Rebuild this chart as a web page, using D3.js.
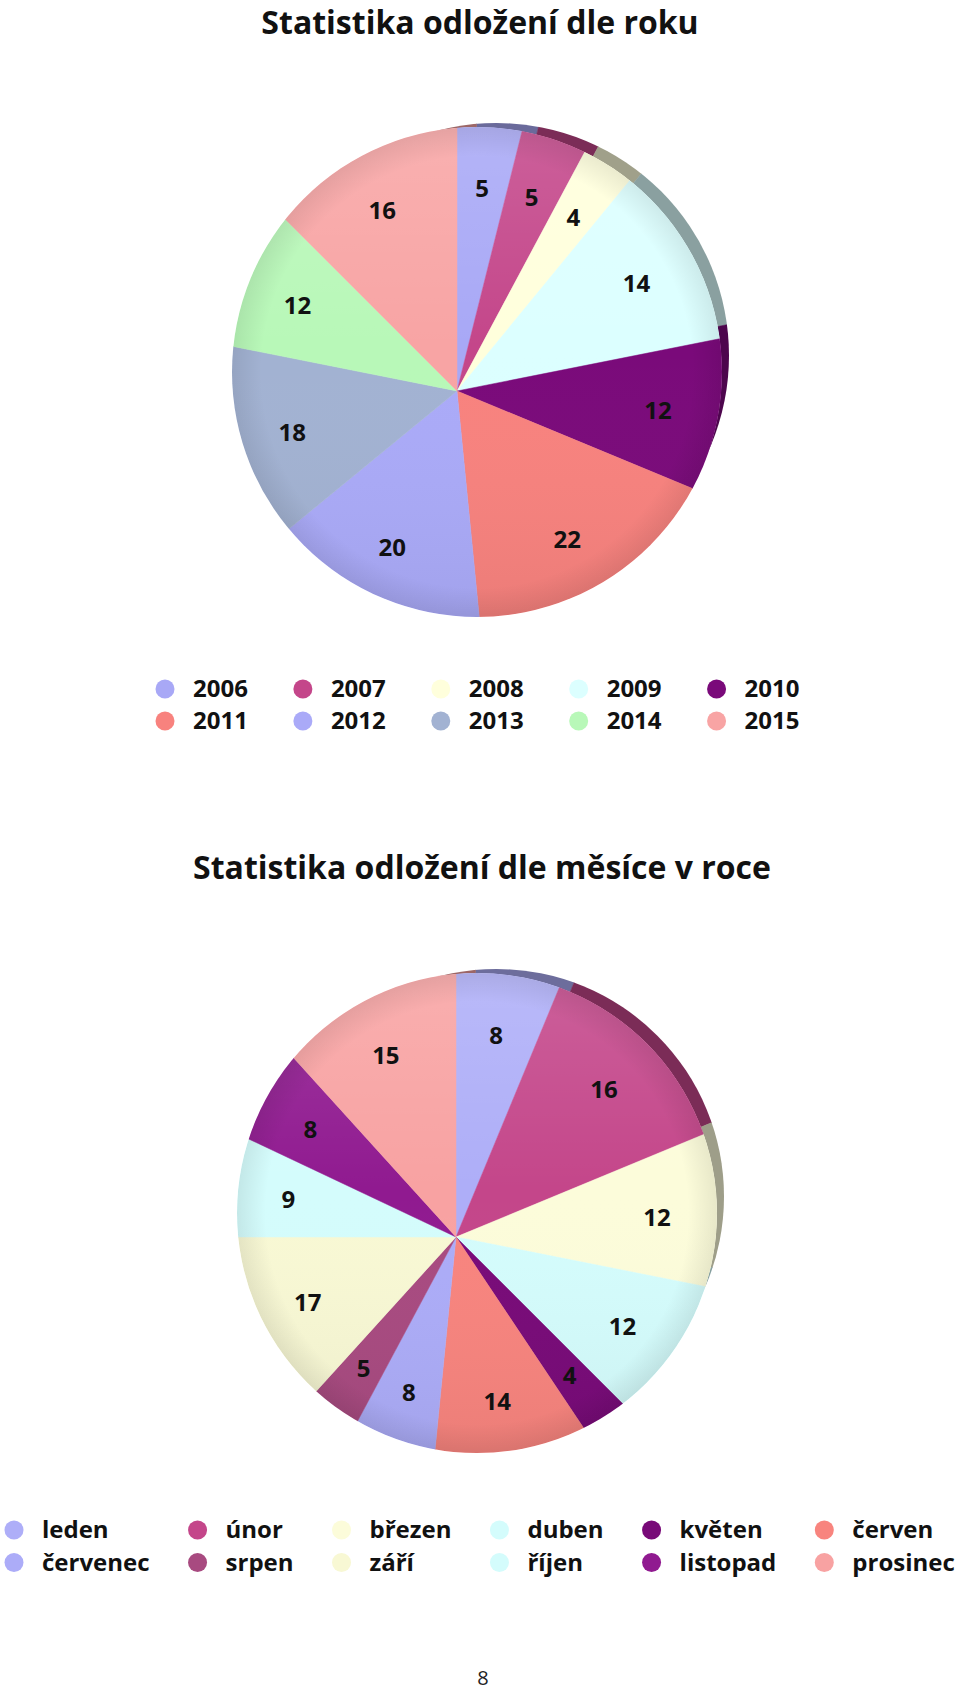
<!DOCTYPE html>
<html>
<head>
<meta charset="utf-8">
<script src="https://cdn.jsdelivr.net/npm/d3@7"></script>
<style>
	body { margin: 0; background: #ffffff; }
	svg { display: block; }
	text { font-family: "Open Sans", "DejaVu Sans", sans-serif; }
</style>
</head>
<body>
<div id="page"></div>
<script>
//###########################################################################
//#                               Data                                      #
//###########################################################################

var yearCategories = ["2006","2007","2008","2009","2010","2011","2012","2013","2014","2015"];
var yearValues     = [5, 5, 4, 14, 12, 22, 20, 18, 12, 16];
var yearColors     = ["#a8a8f6","#c4468a","#ffffdc","#dcffff","#7a0a7a",
                      "#f8827e","#aaaaf8","#a2b2d2","#b8f8b8","#f8a4a4"];

var monthCategories = ["leden","únor","březen","duben","květen","červen",
                       "červenec","srpen","září","říjen","listopad","prosinec"];
var monthValues     = [8, 16, 12, 12, 4, 14, 8, 5, 17, 9, 8, 15];
var monthColors     = ["#aeaef8","#c4468a","#fcfcda","#d4fcfc","#780a78","#f8847e",
                       "#acacf8","#a84a80","#f8f8d4","#d4fcfc","#901a90","#f8a2a2"];

//###########################################################################
//#                            Page setup                                   #
//###########################################################################

var width = 960;
var height = 1693;

var svg = d3.select("#page")
			.append("svg")
			.attr("width",width)
			.attr("height",height);

var defs = svg.append("defs");

//soft lighting on the disk: light top, darker bottom
var light = defs.append("linearGradient").attr("id","light")
	.attr("x1",0).attr("y1",0).attr("x2",0).attr("y2",1);
light.append("stop").attr("offset","0%").attr("stop-color","#fff").attr("stop-opacity",0.14);
light.append("stop").attr("offset","45%").attr("stop-color","#fff").attr("stop-opacity",0);
light.append("stop").attr("offset","100%").attr("stop-color","#000").attr("stop-opacity",0.05);

//slightly darker edge
var edge = defs.append("radialGradient").attr("id","edge");
edge.append("stop").attr("offset","88%").attr("stop-color","#000").attr("stop-opacity",0);
edge.append("stop").attr("offset","100%").attr("stop-color","#000").attr("stop-opacity",0.08);

//######################## Auxiliary functions ##############################

function makeRows(categories,values,colors){
	var rows = [];
	for(var i = 0; i < categories.length; i++){
		rows.push({key: categories[i], value: values[i], color: colors[i]});
	}
	return rows;
}

//distance from the apex to the disk border along angle a
function rayToBorder(a,off,r){
	var ux = Math.sin(a), uy = -Math.cos(a);
	var b = ux*off[0] + uy*off[1];
	var c = off[0]*off[0] + off[1]*off[1] - r*r;
	return -b + Math.sqrt(b*b - c);
}

//############################ Pie chart ####################################

function generatePieVis(id,rows,opt){
	var g = svg.append("g").attr("class","pie");
	var cx = opt.cx, cy = opt.cy, r = opt.r;
	var ax = cx + opt.apex[0], ay = cy + opt.apex[1];	//point where the slices meet
	var rimShift = [19.5,-16.5];
	var rimRadius = r - 12.5;

	defs.append("clipPath").attr("id",id+"-main")
		.append("circle").attr("cx",cx).attr("cy",cy).attr("r",r);
	defs.append("clipPath").attr("id",id+"-rim")
		.append("circle").attr("cx",cx+rimShift[0]).attr("cy",cy+rimShift[1]).attr("r",rimRadius);

	var pie = d3.pie().sort(null).value(function(d) { return d.value; });
	var arcs = pie(rows);
	var arc = d3.arc().innerRadius(0).outerRadius(r + 80);

	//side of the disk (visible at top right)
	g.append("g").attr("clip-path","url(#"+id+"-rim)")
		.append("g")
		.attr("transform","translate("+(ax+rimShift[0])+","+(ay+rimShift[1])+")")
		.selectAll("path").data(arcs).enter().append("path")
			.attr("d",arc)
			.attr("fill",function(d) { return d3.color(d.data.color).darker(1.3); })
			.attr("stroke",function(d) { return d3.color(d.data.color).darker(1.3); })
			.attr("stroke-width",0.5);

	//slices
	var top = g.append("g").attr("clip-path","url(#"+id+"-main)");
	top.append("circle").attr("cx",cx).attr("cy",cy).attr("r",r).attr("fill","#fff");
	top.append("g")
		.attr("transform","translate("+ax+","+ay+")")
		.selectAll("path").data(arcs).enter().append("path")
			.attr("d",arc)
			.attr("fill",function(d) { return d.data.color; })
			.attr("stroke",function(d) { return d.data.color; })
			.attr("stroke-width",0.5);
	top.append("circle").attr("cx",cx).attr("cy",cy).attr("r",r).attr("fill","url(#light)");
	top.append("circle").attr("cx",cx).attr("cy",cy).attr("r",r).attr("fill","url(#edge)");

	//value labels
	g.append("g").attr("transform","translate("+ax+","+ay+")")
		.selectAll("text").data(arcs).enter().append("text")
			.attr("x",function(d) {
				var a = (d.startAngle + d.endAngle)/2;
				return Math.sin(a) * rayToBorder(a,opt.apex,r) * 0.77;
			})
			.attr("y",function(d) {
				var a = (d.startAngle + d.endAngle)/2;
				return -Math.cos(a) * rayToBorder(a,opt.apex,r) * 0.77;
			})
			.attr("dy","0.36em")
			.attr("text-anchor","middle")
			.attr("font-size",24)
			.attr("font-weight",700)
			.attr("fill","#111")
			.text(function(d) { return d.data.value; });
}

//############################ Legend #######################################

function generateLegend(rows,opt){
	var g = svg.append("g").attr("class","legend");
	var cols = opt.cols;
	var dotToText = 28, dotR = 9.5;

	var items = g.selectAll("g.item").data(rows).enter().append("g").attr("class","item");
	items.append("circle").attr("r",dotR)
		.attr("fill",function(d) { return d.color; });
	items.append("text")
		.attr("x",dotToText).attr("y",8)
		.attr("font-size",24).attr("font-weight",700).attr("fill","#111")
		.text(function(d) { return d.key; });

	//column widths come from the longest text of each column
	var colWidth = [];
	items.select("text").each(function(d,i) {
		var c = i % cols;
		var w = this.getComputedTextLength();
		colWidth[c] = Math.max(colWidth[c] || 0, w);
	});
	var colX = [0];
	for(var c = 1; c < cols; c++){
		colX[c] = colX[c-1] + dotToText + colWidth[c-1] + opt.gap;
	}

	items.attr("transform",function(d,i) {
		return "translate("+(opt.x + colX[i % cols])+","+(opt.y + Math.floor(i/cols)*opt.rowStep)+")";
	});
}

//###########################################################################
//#                          Year chart                                     #
//###########################################################################

svg.append("text").attr("x",480).attr("y",34)
	.attr("text-anchor","middle").attr("font-size",32).attr("font-weight",700).attr("fill","#111")
	.text("Statistika odložení dle roku");

generatePieVis("years",makeRows(yearCategories,yearValues,yearColors),
	{cx: 477, cy: 372, r: 245, apex: [-20,19]});

generateLegend(makeRows(yearCategories,yearValues,yearColors),
	{cols: 5, x: 165, y: 689, rowStep: 32, gap: 55});

//###########################################################################
//#                          Month chart                                    #
//###########################################################################

svg.append("text").attr("x",482).attr("y",879)
	.attr("text-anchor","middle").attr("font-size",32).attr("font-weight",700).attr("fill","#111")
	.text("Statistika odložení dle měsíce v roce");

generatePieVis("months",makeRows(monthCategories,monthValues,monthColors),
	{cx: 477, cy: 1213, r: 240, apex: [-21,24]});

generateLegend(makeRows(monthCategories,monthValues,monthColors),
	{cols: 6, x: 14, y: 1530, rowStep: 32.5, gap: 48});

//page number
svg.append("text").attr("x",483).attr("y",1685)
	.attr("text-anchor","middle").attr("font-size",20).attr("fill","#222")
	.text("8");
</script>
</body>
</html>
